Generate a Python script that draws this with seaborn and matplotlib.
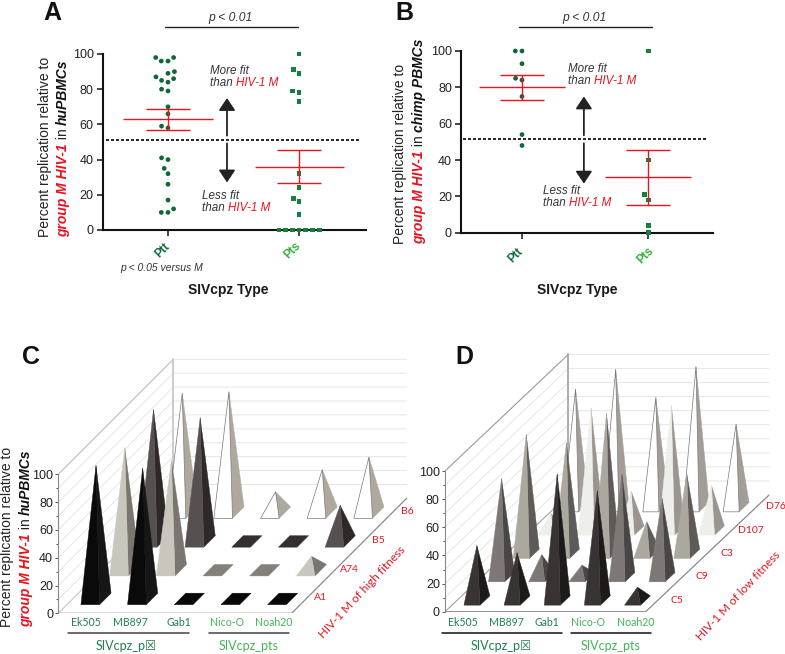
import matplotlib
matplotlib.use('Agg')
import matplotlib.pyplot as plt
import pandas as pd
import seaborn as sns

# Panel A / B values
a_ptt = [98, 98, 96, 96, 90, 89, 87, 86, 85, 84, 80, 79, 70, 66, 59, 58, 41, 40, 35, 32, 26, 17, 12, 10, 10]
a_pts = [100, 91, 89, 79, 78, 73, 32, 24, 18, 16, 9, 0, 0, 0, 0, 0, 0, 0]
b_ptt = [100, 100, 93, 85, 84, 75, 54, 48]
b_pts = [100, 40, 21, 18, 4, 0]
a_stats = [(63, 57, 69), (36, 26.5, 45.5)]
b_stats = [(80, 73, 87), (30.5, 15.5, 45.5)]
types = ['Ptt', 'Pts']

# Panel C / D heights (rows front to back, columns left to right)
strains = ['Ek505', 'MB897', 'Gab1', 'Nico-O', 'Noah20']
c_rows = ['A1', 'A74', 'B5', 'B6']
c_values = [[96, 94, 0, 0, 0],
            [88, 79, 0, 0, 10],
            [95, 89, 0, 0, 26],
            [86, 87, 15, 31, 40]]
d_rows = ['C5', 'C9', 'C3', 'D107', 'D76']
d_values = [[39, 34, 90, 78, 9.5],
            [70, 16, 8.5, 73, 56],
            [85, 79, 100, 23, 57],
            [12, 87, 28, 89, 32],
            [84, 98, 78, 100, 59]]
c_colors = [('#0a0a0a', '#161616', '#080808'), ('#c9c6be', '#7b7570', '#857f7a'),
            ('#575050', '#2e2829', '#362f31'), ('#ffffff', '#aea89f', '#ffffff')]
d_colors = [('#3a3334', '#1e1a1a', '#2a2526'), ('#7d7876', '#4a4646', '#7d7876'),
            ('#aca79f', '#5e5a58', '#aca79f'), ('#eeeeea', '#9a958f', '#eeeeea'),
            ('#ffffff', '#a29d96', '#ffffff')]

RED = '#e8141f'
DARK_GREEN = '#0f6b3e'
LIGHT_GREEN = '#35b336'
W, H = 785, 654

sns.set_style('white')
plt.rcParams['font.family'] = ['Liberation Sans', 'DejaVu Sans']

fig = plt.figure(figsize=(W / 100, H / 100), dpi=100)


def px_axes(left, top, right, bottom):
    return fig.add_axes([left / W, 1 - bottom / H, (right - left) / W, (bottom - top) / H])


overlay = px_axes(0, 0, W, H)
overlay.set_xlim(0, W)
overlay.set_ylim(H, 0)
overlay.axis('off')
overlay.set_zorder(10)
overlay.patch.set_alpha(0)


def rich_text(x, y, parts, vertical=False, size=10):
    # multi colour text, each part goes after the previous one
    renderer = fig.canvas.get_renderer()
    for text, color, style, weight in parts:
        t = overlay.text(x, y, text, color=color, style=style, weight=weight, fontsize=size,
                         rotation=90 if vertical else 0, rotation_mode='anchor',
                         ha='left', va='center')
        box = t.get_window_extent(renderer)
        if vertical:
            y -= box.height
        else:
            x += box.width


def scatter_panel(ax, ptt, pts, stats, ylim_line, arrow_x, p_x):
    df = pd.DataFrame({'type': ['Ptt'] * len(ptt) + ['Pts'] * len(pts), 'pct': ptt + pts})
    # edge width only keeps the swarm spaced out, the edge itself is not drawn
    sns.swarmplot(data=df[df.type == 'Ptt'], x='type', y='pct', order=types, ax=ax,
                  color='#0f6637', marker='o', size=3.4, linewidth=1.2, zorder=3)
    sns.swarmplot(data=df[df.type == 'Pts'], x='type', y='pct', order=types, ax=ax,
                  color='#15803d', marker='s', size=3.4, linewidth=1.2, zorder=3)
    for coll in list(ax.collections):
        if len(coll.get_offsets()) == 0:
            coll.remove()
            continue
        coll.set_edgecolor('none')
        coll.set_clip_on(False)
    for i, (mean, low, high) in enumerate(stats):
        ax.hlines(mean, i - 0.34, i + 0.34, color=RED, lw=1, zorder=4)
        ax.errorbar(i, mean, yerr=[[mean - low], [high - mean]], color=RED, lw=1, capsize=15.8,
                    capthick=1, zorder=4)
    ax.hlines(ylim_line, -0.47, 1.46, color='black', lw=1.2, ls=(0, (1.8, 1.2)), zorder=2, clip_on=False)
    up, down = arrow_x
    style = dict(arrowstyle='-|>,head_width=0.5,head_length=0.75', color='#222222', lw=1.3, shrinkA=0, shrinkB=0)
    ax.annotate('', xy=(up, 75), xytext=(up, 53.6), arrowprops=style)
    ax.annotate('', xy=(down, 27), xytext=(down, 49.2), arrowprops=style)
    ax.set_ylim(0, 100)
    ax.set_xlim(p_x)
    ax.set_yticks(range(0, 101, 20))
    ax.set_xticks([0, 1])
    ax.set_xticklabels([])
    ax.set_xlabel('')
    ax.set_ylabel('')
    ax.tick_params(axis='both', length=4.5, width=1.2, left=True, bottom=True, labelsize=9, labelcolor='#222222', pad=2)
    sns.despine(ax=ax)
    for s in ['left', 'bottom']:
        ax.spines[s].set_linewidth(1.5)
        ax.spines[s].set_color('#111111')
        ax.spines[s].set_zorder(1)


# --- panel A
ax_a = px_axes(102.7, 54, 366, 230)
scatter_panel(ax_a, a_ptt, a_pts, a_stats, 51, (0.45, 0.45), (-0.498, 1.51))
# --- panel B
ax_b = px_axes(461, 51, 712.7, 232.7)
scatter_panel(ax_b, b_ptt, b_pts, b_stats, 51.5, (0.49, 0.49), (-0.483, 1.51))


def pyramid_panel(ax, values, colors, dx, dy, half, v0, wall):
    # oblique view: x = column + row * dx, y = percent + row * dy
    n_rows, n_cols = len(values), len(values[0])
    pr = lambda u, v, z=0: (u + v * dx, z + v * dy)
    back = [pr(0, n_rows, 0), pr(n_cols, n_rows, 0), pr(n_cols, n_rows, 100), pr(0, n_rows, 100)]
    for z in range(10, 101, 10):
        x0, y0 = pr(0, 0, z)
        x1, y1 = pr(0, n_rows, z)
        x2, y2 = pr(n_cols, n_rows, z)
        ax.plot([x0, x1, x2], [y0, y1, y2], color='#e6e6e2', lw=0.7, zorder=1)
    ax.plot(*zip(back[0], back[3]), color=wall, lw=1.2, zorder=1)
    ax.plot(*zip(pr(0, 0, 100), back[3]), color=wall, lw=0.8, zorder=1)
    ax.plot(*zip(pr(0, 0), pr(n_cols, 0), pr(n_cols, n_rows)), color='#8a8a8a', lw=0.9, zorder=1)
    ax.plot(*zip(pr(0, 0), pr(0, n_rows)), color=wall, lw=0.8, zorder=1)
    order = 2
    for row in range(n_rows - 1, -1, -1):
        front_c, side_c, flat_c = colors[row]
        for col in range(n_cols):
            z = values[row][col]
            u, v = col + 0.5, row + v0
            fl, fr = pr(u - half, v - half), pr(u + half, v - half)
            br, bl = pr(u + half, v + half), pr(u - half, v + half)
            edge = '#777777' if front_c == '#ffffff' else None
            if z == 0:
                ax.fill(*zip(fl, fr, br, bl), color=flat_c, ec=flat_c, lw=0.3, zorder=order)
            else:
                top = pr(u, v, z)
                ax.fill(*zip(fr, br, top), fc=side_c, ec=side_c, lw=0.3, zorder=order)
                ax.fill(*zip(fl, fr, top), fc=front_c, ec=edge or front_c, lw=0.5 if edge else 0.3, zorder=order)
            order += 1
    ax.set_xlim(0, n_cols + n_rows * dx + 0.1)
    ax.set_ylim(0, 100 + n_rows * dy + 1)
    ax.set_xticks([])
    ax.set_yticks(range(0, 101, 20))
    ax.set_yticks(range(0, 101, 10), minor=True)
    ax.tick_params(axis='y', which='major', length=2.2, width=0.7, left=True, labelsize=9, labelcolor='#222222', pad=1.5, color='#555555')
    ax.tick_params(axis='y', which='minor', length=1.2, width=0.7, left=True, color='#555555')
    sns.despine(ax=ax, bottom=True)
    ax.spines['left'].set_bounds(0, 100)
    ax.spines['left'].set_color('#8a8a8a')
    ax.spines['left'].set_linewidth(0.8)
    ax.patch.set_alpha(0)


# --- panel C, axes size comes from the floor and wall scale
c_dx, c_dy = 86.25 / 140, 86.25 / 4.17
c_w = (5 + 4 * c_dx + 0.1) * 140 / 3
c_h = (100 + 4 * c_dy + 1) * 4.17 / 3
ax_c = px_axes(58.3, 613.3 - c_h, 58.3 + c_w, 613.3)
pyramid_panel(ax_c, c_values, c_colors, c_dx, c_dy, 0.2, 0.5, '#c4c4c4')
# --- panel D
d_dx, d_dy = 74 / 120.4, 70 / 4.22
d_w = (5 + 5 * d_dx + 0.1) * 120.4 / 3
d_h = (100 + 5 * d_dy + 1) * 4.22 / 3
ax_d = px_axes(445, 611.7 - d_h, 445 + d_w, 611.7)
pyramid_panel(ax_d, d_values, d_colors, d_dx, d_dy, 0.2, 0.48, '#a0a0a0')

# panel letters
for letter, x, y in [('A', 52.7, 13), ('B', 404, 13), ('C', 31, 357), ('D', 464, 357)]:
    overlay.text(x, y, letter, fontsize=18, weight='bold', ha='center', va='center', color='#111111')

# ylabels
for x1, x2, y0, cell in [(45, 63, 237, 'huPBMCs'), (400, 419, 244, 'chimp PBMCs'), (7, 26, 627, 'huPBMCs')]:
    rich_text(x1, y0, [('Percent replication relative to', '#222222', 'normal', 'normal')], vertical=True)
    rich_text(x2, y0, [('group M HIV-1', RED, 'italic', 'bold'), (' in ', '#222222', 'normal', 'normal'),
                       (cell, '#111111', 'italic', 'bold')], vertical=True)

# xlabels, Ptt / Pts and p value bars
for xc, a, b, bx0, bx1, ty in [(228, 163, 293, 165, 298, 250), (577, 515.7, 645.7, 519, 652, 255)]:
    overlay.text(xc, 290, 'SIVcpz Type', fontsize=10, weight='bold', ha='center', va='center', color='#1a1a1a')
    overlay.text(a, ty, 'Ptt', fontsize=8.5, weight='bold', rotation=45, ha='center', va='center', color=DARK_GREEN)
    overlay.text(b, ty, 'Pts', fontsize=8.5, weight='bold', rotation=45, ha='center', va='center', color=LIGHT_GREEN)
    overlay.plot([bx0, bx1], [26.7, 26.7], color='#222222', lw=1)
    overlay.text((bx0 + bx1) / 2 - 1, 17.5, 'p < 0.01', style='italic', fontsize=8.7, ha='center', va='center', color='#333333')
overlay.text(162, 268, 'p < 0.05 versus M', style='italic', fontsize=7.5, ha='center', va='center', color='#333333')

# fit text
for x_m, y_m, x_l, y_l in [(210.3, 70.7, 202.3, 196), (567.7, 69, 543, 191)]:
    rich_text(x_m, y_m, [('More fit', '#333333', 'italic', 'normal')], size=8.4)
    rich_text(x_m, y_m + 12, [('than ', '#333333', 'italic', 'normal'), ('HIV-1 M', RED, 'italic', 'normal')], size=8.4)
    rich_text(x_l, y_l, [('Less fit', '#333333', 'italic', 'normal')], size=8.4)
    rich_text(x_l, y_l + 12, [('than ', '#333333', 'italic', 'normal'), ('HIV-1 M', RED, 'italic', 'normal')], size=8.4)

# labels under the 3d panels
LABEL_FONT = ['Lato', 'DejaVu Sans']
c_label_x = [85.7, 130, 178.7, 226.7, 274]
d_label_x = [462.7, 506, 547.3, 587.7, 635.7]
for xs in (c_label_x, d_label_x):
    for i, (name, x) in enumerate(zip(strains, xs)):
        overlay.text(x, 622, name, family=LABEL_FONT, fontsize=7.6, ha='center', va='center',
                     color='#1f7f4f' if i < 3 else '#44b556')
for x0, x1, x2, x3, t1, t2, col in [(68.3, 189, 209.3, 289.3, 126.7, 248.3, '#444444'),
                                   (442.3, 562.3, 571, 651, 501.7, 610.7, '#111111')]:
    overlay.plot([x0, x1], [632.7, 632.7], color=col, lw=1.1)
    overlay.plot([x2, x3], [632.7, 632.7], color=col, lw=1.1)
    overlay.text(t1, 645.5, 'SIVcpz_p\u2612', family=LABEL_FONT, fontsize=9, ha='center', va='center', color='#1f7f4f')
    overlay.text(t2, 645.5, 'SIVcpz_pts', family=LABEL_FONT, fontsize=9, ha='center', va='center', color='#44b556')

# row labels, placed from the same oblique floor
for name, i in zip(c_rows, range(4)):
    overlay.text(58.3 + (5 + (i + 0.5) * c_dx + 0.32) * 140 / 3, 613.3 - (i + 0.5) * c_dy * 4.17 / 3 - 1, name,
                 family=LABEL_FONT, fontsize=7.5, color=RED, ha='center', va='center')
for name, i in zip(d_rows, range(5)):
    overlay.text(445 + (5 + (i + 0.5) * d_dx + 0.48) * 120.4 / 3, 611.7 - (i + 0.5) * d_dy * 4.22 / 3, name,
                 family=LABEL_FONT, fontsize=7.5, color=RED, ha='center', va='center')
overlay.text(361.7, 591.7, 'HIV-1 M of high fitness', family=LABEL_FONT, fontsize=8.4, color=RED, rotation=47, ha='center', va='center')
overlay.text(738, 596, 'HIV-1 M of low fitness', family=LABEL_FONT, fontsize=8.4, color=RED, rotation=47, ha='center', va='center')

fig.savefig('out.png', dpi=100)
